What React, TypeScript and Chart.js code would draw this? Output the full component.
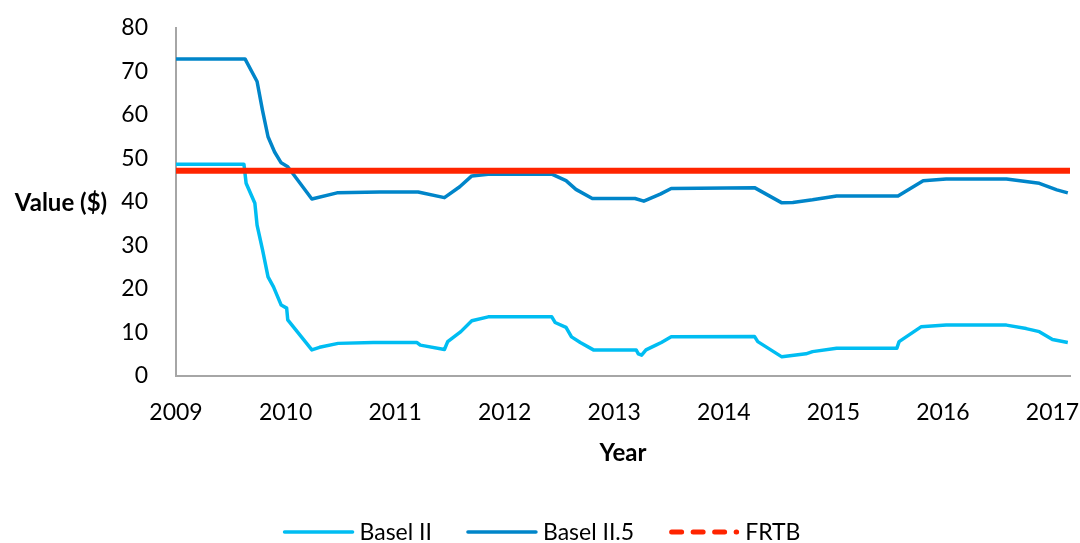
import React, { useEffect, useRef } from "react";
import { Chart, registerables } from "chart.js";

Chart.register(...registerables);

// ---------- data ----------
const xTickYears = [2009, 2010, 2011, 2012, 2013, 2014, 2015, 2016, 2017];
const yTickValues = [0, 10, 20, 30, 40, 50, 60, 70, 80];

const basel2Years = [
  2009.0, 2009.62, 2009.64, 2009.72, 2009.74, 2009.79, 2009.84, 2009.89, 2009.96, 2010.01,
  2010.02, 2010.24, 2010.31, 2010.48, 2010.8, 2011.2, 2011.23, 2011.45, 2011.48, 2011.6,
  2011.7, 2011.85, 2012.43, 2012.46, 2012.56, 2012.61, 2012.69, 2012.81, 2013.2, 2013.22,
  2013.25, 2013.29, 2013.38, 2013.43, 2013.52, 2014.28, 2014.31, 2014.53, 2014.75, 2014.81,
  2015.03, 2015.58, 2015.6, 2015.8, 2016.03, 2016.58, 2016.76, 2016.88, 2017.0, 2017.14,
];
const basel2Values = [
  48.7, 48.7, 44.3, 39.7, 34.7, 29.0, 22.8, 20.5, 16.3, 15.6,
  12.9, 6.0, 6.6, 7.5, 7.7, 7.7, 7.1, 6.1, 7.9, 10.2,
  12.7, 13.6, 13.6, 12.3, 11.2, 9.0, 7.7, 6.0, 6.0, 5.1,
  4.8, 6.0, 7.1, 7.7, 9.0, 9.1, 7.9, 4.4, 5.1, 5.6,
  6.4, 6.4, 7.9, 11.3, 11.7, 11.7, 10.9, 10.2, 8.4, 7.7,
];

const basel25Years = [
  2009.0, 2009.63, 2009.74, 2009.79, 2009.84, 2009.9, 2009.96, 2010.02, 2010.24,
  2010.47, 2010.86, 2011.21, 2011.45, 2011.59, 2011.7, 2011.85, 2012.43, 2012.56, 2012.65,
  2012.8, 2013.19, 2013.27, 2013.42, 2013.52, 2014.28, 2014.53, 2014.63, 2014.81, 2015.03,
  2015.59, 2015.82, 2016.03, 2016.58, 2016.88, 2017.04, 2017.14,
];
const basel25Values = [
  72.9, 72.9, 67.7, 61.0, 55.0, 51.5, 49.0, 48.1, 40.7,
  42.1, 42.3, 42.3, 41.0, 43.5, 46.0, 46.4, 46.4, 44.9, 42.9,
  40.8, 40.8, 40.2, 41.8, 43.1, 43.3, 39.8, 39.9, 40.5, 41.4,
  41.4, 44.9, 45.3, 45.3, 44.3, 42.8, 42.1,
];

const frtbYears = [2009.0, 2017.16];
const frtbValues = [47.2, 47.2];

const seriesNames = ["Basel II", "Basel II.5", "FRTB"];
const seriesColors = ["#00BDF2", "#0085C9", "#FF2400"];

const xTitle = "Year";
const yTitle = "Value ($)";

const FONT = "Lato, 'Open Sans', sans-serif";

const toPoints = (xs: number[], ys: number[]) => xs.map((x, i) => ({ x, y: ys[i] }));

const overlayPlugin = {
  id: "overlay",
  afterDraw(chart: any) {
    const ctx: CanvasRenderingContext2D = chart.ctx;
    const area = chart.chartArea;
    ctx.save();
    ctx.fillStyle = "#000";
    ctx.textBaseline = "middle";
    ctx.textAlign = "center";
    ctx.font = `bold 24px ${FONT}`;
    ctx.fillText(yTitle, 61, 203);
    ctx.fillText(xTitle, (area.left + area.right) / 2, 453);

    // legend
    ctx.font = `23px ${FONT}`;
    const lineLen = 70;
    const gap = 6;
    const itemGap = 35;
    const ds = chart.data.datasets;
    const widths = ds.map((d: any) => lineLen + gap + ctx.measureText(d.label).width);
    const total = widths.reduce((a: number, b: number) => a + b, 0) + itemGap * (ds.length - 1);
    let x = 542 - total / 2;
    const y = 532;
    ds.forEach((d: any, i: number) => {
      ctx.beginPath();
      ctx.strokeStyle = d.borderColor;
      if (d.legendDash) {
        ctx.lineWidth = 5;
        ctx.lineCap = "round";
        ctx.setLineDash([10, 11.5]);
        ctx.moveTo(x + 2.5, y);
        ctx.lineTo(x + lineLen - 2.5, y);
      } else {
        ctx.lineWidth = 3.5;
        ctx.lineCap = "round";
        ctx.setLineDash([]);
        ctx.moveTo(x + 1, y);
        ctx.lineTo(x + lineLen - 1, y);
      }
      ctx.stroke();
      ctx.setLineDash([]);
      ctx.textAlign = "left";
      ctx.fillStyle = "#000";
      ctx.fillText(d.label, x + lineLen + gap, y + 1);
      x += widths[i] + itemGap;
    });
    ctx.restore();
  },
};

export default function App() {
  const canvasRef = useRef<HTMLCanvasElement | null>(null);

  useEffect(() => {
    if (!canvasRef.current) return;
    const chart = new Chart(canvasRef.current, {
      type: "line",
      data: {
        datasets: [
          {
            label: seriesNames[0],
            data: toPoints(basel2Years, basel2Values),
            borderColor: seriesColors[0],
            backgroundColor: seriesColors[0],
            borderWidth: 3.5,
            pointRadius: 0,
            tension: 0,
            borderJoinStyle: "round",
            order: 2,
          },
          {
            label: seriesNames[1],
            data: toPoints(basel25Years, basel25Values),
            borderColor: seriesColors[1],
            backgroundColor: seriesColors[1],
            borderWidth: 3.5,
            pointRadius: 0,
            tension: 0,
            borderJoinStyle: "round",
            order: 1,
          },
          {
            label: seriesNames[2],
            data: toPoints(frtbYears, frtbValues),
            borderColor: seriesColors[2],
            backgroundColor: seriesColors[2],
            borderWidth: 6,
            pointRadius: 0,
            tension: 0,
            order: 0,
            legendDash: true,
          } as any,
        ],
      },
      options: {
        responsive: false,
        animation: false,
        devicePixelRatio: 1,
        layout: { padding: { left: 0, top: 28, right: 10, bottom: 0 } },
        plugins: {
          legend: { display: false },
          tooltip: { enabled: false },
        },
        scales: {
          x: {
            type: "linear",
            min: 2009,
            max: 2017.16,
            grid: { display: false },
            border: { display: true, color: "#A6A6A6", width: 2 },
            afterBuildTicks: (scale: any) => {
              scale.ticks = xTickYears.map((v) => ({ value: v }));
            },
            afterFit: (scale: any) => {
              scale.height = 543 - 376;
              scale.paddingLeft = 0;
              scale.paddingRight = 0;
            },
            ticks: {
              color: "#000",
              font: { family: FONT, size: 23 },
              padding: 15,
              maxRotation: 0,
              autoSkip: false,
              callback: (v: any) => String(v),
            },
          },
          y: {
            type: "linear",
            min: 0,
            max: 80,
            grid: { display: false },
            border: { display: true, color: "#A6A6A6", width: 2 },
            afterBuildTicks: (scale: any) => {
              scale.ticks = yTickValues.map((v) => ({ value: v }));
            },
            afterFit: (scale: any) => {
              scale.width = 176;
              scale.paddingTop = 0;
              scale.paddingBottom = 0;
            },
            ticks: {
              color: "#000",
              font: { family: FONT, size: 23 },
              padding: 20,
              callback: (v: any) => String(v),
            },
          },
        },
      },
      plugins: [overlayPlugin],
    });
    if ((document as any).fonts && (document as any).fonts.load) {
      Promise.all([
        (document as any).fonts.load(`23px Lato`),
        (document as any).fonts.load(`bold 24px Lato`),
      ]).then(() => chart.update()).catch(() => {});
    }
    return () => chart.destroy();
  }, []);

  return (
    <div style={{ position: "absolute", left: 0, top: 0, width: 1080, height: 543, background: "#fff" }}>
      <canvas ref={canvasRef} width={1080} height={543} style={{ display: "block" }} />
    </div>
  );
}
